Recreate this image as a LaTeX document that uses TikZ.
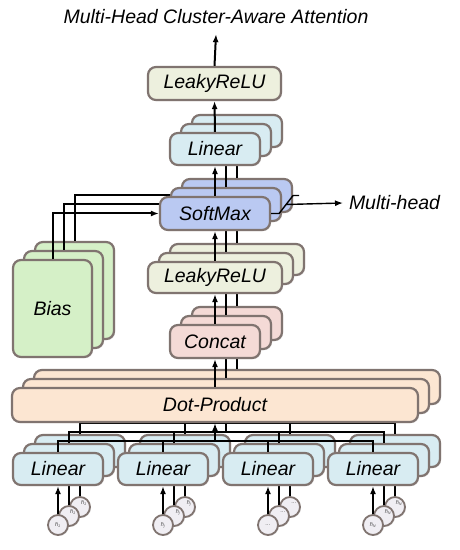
\documentclass[tikz,border=0pt]{standalone}
\usepackage{fontspec}
\setmainfont{Liberation Sans}
\usepackage{tikz}
\usetikzlibrary{arrows.meta,calc,shadows}

\definecolor{edge}{RGB}{128,116,112}
\definecolor{leakyfill}{RGB}{237,240,222}
\definecolor{linfill}{RGB}{216,236,242}
\definecolor{smfill}{RGB}{186,201,242}
\definecolor{biasfill}{RGB}{213,240,199}
\definecolor{catfill}{RGB}{244,218,214}
\definecolor{dotfill}{RGB}{252,230,210}
\definecolor{infill}{RGB}{240,238,243}

\tikzset{
  lbl/.style={font=\itshape\fontsize{19.5}{22}\selectfont},
  blk/.style={lbl,draw=edge,line width=2.2pt,rounded corners=8pt,inner sep=0pt,
    drop shadow={opacity=0.25,shadow xshift=1.2pt,shadow yshift=-1.2pt}},
  circ/.style={circle,draw=edge,line width=1.8pt,fill=infill,minimum size=20pt,
    inner sep=0pt,drop shadow={opacity=0.25,shadow xshift=1pt,shadow yshift=-1pt}},
  tiny/.style={inner sep=0pt,text=black!70,font=\itshape\fontsize{5.5}{5.5}\selectfont},
  tipa/.style={->},
  tipb/.style={},
  tipc/.style={},
}

\begin{document}
\begin{tikzpicture}[x=1pt,y=1pt,>={Latex[length=8pt,width=6pt]},line width=2pt]
  \useasboundingbox (0,0) rectangle (460,550);
  % three stacked heads, back (c) to front (a)
  \foreach \d/\k in {c/2,b/1,a/0}{
    \pgfmathsetmacro\s{min(\k,1)*4}
    \begin{scope}[shift={(11*\k,9*\k)}]
      \node[blk,fill=linfill,minimum width=90pt,minimum height=32pt] (lin\d) at (215,401) {\ifnum\k=0 Linear\fi};
      \node[blk,fill=smfill,minimum width=110pt,minimum height=33pt] (sm\d) at (215,336.5) {\ifnum\k=0 SoftMax\fi};
      \node[blk,fill=leakyfill,minimum width=134pt,minimum height=31pt] (lr\d) at (215,272.5) {\ifnum\k=0 LeakyReLU\fi};
      \node[blk,fill=catfill,minimum width=90pt,minimum height=33pt] (cat\d) at (215,208.5) {\ifnum\k=0 Concat\fi};
      \node[blk,fill=dotfill,minimum width=406pt,minimum height=34pt] (dot\d) at (215,145) {\ifnum\k=0 Dot-Product\fi};
      \node[blk,fill=biasfill,minimum width=79pt,minimum height=97pt] (bias\d) at (52.5,241.5) {\ifnum\k=0 Bias\fi};
      \foreach \g/\x/\t in {1/58/{\=h\textsubscript{1}},2/163/{\=h\textsubscript{j}},3/268/{...},4/373/{\=h\textsubscript{N}}}{
        \node[blk,fill=linfill,minimum width=90pt,minimum height=32pt] (lin\g\d) at (\x,81) {\ifnum\k=0 Linear\fi};
        \node[circ] (in\g\d) at (\x,25) {};
        \node[tiny] (h\g\d) at ($(in\g\d)+(\s,\s)$) {\t};
        \draw[tip\d] (in\g\d.north) -- (lin\g\d.south);
      }
    \end{scope}
    \coordinate (bus\d) at ($(dot\d.south)+(0,-18)$);
    \draw (lin1\d.north) |- (lin4\d.north |- bus\d) -- (lin4\d.north);
    \draw (lin2\d.north) -- (lin2\d.north |- bus\d);
    \draw (lin3\d.north) -- (lin3\d.north |- bus\d);
    \draw[tip\d] (bus\d) -- (dot\d.south);
    \draw[tip\d] (dot\d.north) -- (cat\d.south);
    \draw[tip\d] (cat\d.north) -- (lr\d.south);
    \draw[tip\d] (lr\d.north) -- (sm\d.south);
    \draw[tip\d] (sm\d.north) -- (lin\d.south);
    \draw[tip\d] (bias\d.north) |- (sm\d.west);
  }

  \node[blk,fill=leakyfill,minimum width=133pt,minimum height=33pt] (top) at (214.5,466.5) {LeakyReLU};
  \node[lbl,inner sep=9pt] (title) at (216,533) {Multi-Head Cluster-Aware Attention};
  \draw[->] (lina.north) -- (top.south);
  \draw[->] (top.north) -- (title.south);

  % head bracket
  \draw[line width=1.4pt] (sma.east) -- ++(8,0) -- ++(14,18) -- ++(6,0);
  \coordinate (mhs) at ($(sma.east)+(15,9)$);
  \node[lbl,anchor=west,inner sep=5pt] (mh) at (343,347) {Multi-head};
  \draw[->,line width=1.4pt] (mhs) -- (mh.west);
\end{tikzpicture}
\end{document}
